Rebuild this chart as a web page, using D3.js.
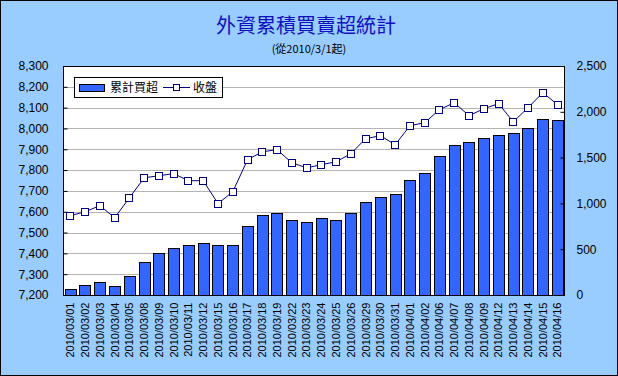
<!DOCTYPE html>
<html>
<head>
<meta charset="utf-8">
<script src="https://cdn.jsdelivr.net/npm/d3@7"></script>
<style>
  html, body { margin: 0; padding: 0; background: #fff; }
  svg { display: block; }
</style>
</head>
<body>
<div id="chart"></div>
<script>
// ---- data ----
const dates = [
  "2010/03/01","2010/03/02","2010/03/03","2010/03/04","2010/03/05",
  "2010/03/08","2010/03/09","2010/03/10","2010/03/11","2010/03/12",
  "2010/03/15","2010/03/16","2010/03/17","2010/03/18","2010/03/19",
  "2010/03/22","2010/03/23","2010/03/24","2010/03/25","2010/03/26",
  "2010/03/29","2010/03/30","2010/03/31","2010/04/01","2010/04/02",
  "2010/04/06","2010/04/07","2010/04/08","2010/04/09","2010/04/12",
  "2010/04/13","2010/04/14","2010/04/15","2010/04/16"
];
// cumulative net buy (right axis)
const netBuy = [
  62, 106, 139, 95, 204,
  357, 455, 510, 543, 565,
  543, 543, 750, 870, 892,
  816, 794, 838, 816, 892,
  1012, 1067, 1100, 1256, 1329,
  1515, 1635, 1667, 1711, 1744,
  1769, 1820, 1919, 1908
];
// closing index (left axis)
const closing = [
  7581, 7600, 7629, 7571, 7667,
  7763, 7773, 7783, 7749, 7749,
  7639, 7696, 7850, 7888, 7898,
  7835, 7811, 7826, 7840, 7879,
  7951, 7965, 7922, 8013, 8028,
  8090, 8124, 8061, 8095, 8119,
  8032, 8100, 8172, 8114
];
const leftTicks  = [7200, 7300, 7400, 7500, 7600, 7700, 7800, 7900, 8000, 8100, 8200, 8300];
const rightTicks = [0, 500, 1000, 1500, 2000, 2500];
const title = "外資累積買賣超統計";
const subtitle = "(從2010/3/1起)";
const seriesNames = ["累計買超", "收盤"];

const fullW = 618, fullH = 376;
const plot = { left: 63, right: 565, top: 66, bottom: 295 };
const bg = "#99CCFF", barColour = "#3366FF", lineColour = "#000080";
const latin = "'Liberation Sans', Arial, sans-serif";
const cjk = "'Noto Sans CJK TC', 'Noto Sans CJK SC', sans-serif";

const svg = d3.select("#chart").append("svg")
  .attr("width", fullW).attr("height", fullH);

svg.append("rect")
  .attr("x", 0.5).attr("y", 0.5)
  .attr("width", fullW - 1).attr("height", fullH - 1)
  .attr("fill", bg).attr("stroke", "#000").attr("stroke-width", 1);

// Titles
svg.append("text")
  .attr("x", 306).attr("y", 33)
  .attr("text-anchor", "middle")
  .attr("font-family", cjk).attr("font-size", 20)
  .attr("fill", "#1010C0")
  .text(title);

svg.append("text")
  .attr("x", 309).attr("y", 53)
  .attr("text-anchor", "middle")
  .attr("font-family", cjk).attr("font-size", 11)
  .attr("fill", "#000")
  .text(subtitle);

// Scales
const x = d3.scaleBand().domain(dates)
  .range([plot.left, plot.right])
  .paddingInner(0.23).paddingOuter(0.115);
const yL = d3.scaleLinear().domain([7200, 8300]).range([plot.bottom, plot.top]);
const yR = d3.scaleLinear().domain([0, 2500]).range([plot.bottom, plot.top]);

// Plot area
svg.append("rect")
  .attr("x", plot.left).attr("y", plot.top)
  .attr("width", plot.right - plot.left).attr("height", plot.bottom - plot.top)
  .attr("fill", "#fff");

// Grid
svg.append("g")
  .attr("transform", `translate(${plot.left},0)`)
  .call(d3.axisLeft(yL).tickValues(leftTicks.slice(1, -1))
    .tickSize(-(plot.right - plot.left)).tickFormat(""))
  .call(g => g.select(".domain").remove())
  .call(g => g.selectAll("line").attr("stroke", "#B4B4B4").attr("shape-rendering", "crispEdges"));

// Bars
svg.append("g").selectAll("rect")
  .data(dates.map((d, i) => ({ date: d, value: netBuy[i] })))
  .join("rect")
  .attr("x", d => Math.round(x(d.date)) + 0.5)
  .attr("y", d => Math.round(yR(d.value)) + 0.5)
  .attr("width", Math.round(x.bandwidth()))
  .attr("height", d => plot.bottom - Math.round(yR(d.value)))
  .attr("fill", barColour)
  .attr("stroke", "#000").attr("stroke-width", 1);

// Line
const pts = dates.map((d, i) => ({ date: d, value: closing[i] }));
const line = d3.line()
  .x(d => x(d.date) + x.bandwidth() / 2)
  .y(d => yL(d.value));

svg.append("path")
  .datum(pts)
  .attr("d", line)
  .attr("fill", "none")
  .attr("stroke", lineColour).attr("stroke-width", 1);

svg.append("g").selectAll("rect")
  .data(pts)
  .join("rect")
  .attr("x", d => Math.round(x(d.date) + x.bandwidth() / 2) - 3.5)
  .attr("y", d => Math.round(yL(d.value)) - 3.5)
  .attr("width", 7).attr("height", 7)
  .attr("fill", "#fff")
  .attr("stroke", lineColour).attr("stroke-width", 1);

// Plot border
svg.append("rect")
  .attr("x", plot.left + 0.5).attr("y", plot.top + 0.5)
  .attr("width", plot.right - plot.left - 1).attr("height", plot.bottom - plot.top)
  .attr("fill", "none").attr("stroke", "#000").attr("stroke-width", 1);

// Axes
const fmt = d3.format(",");
const leftAxis = svg.append("g")
  .attr("transform", `translate(${plot.left + 0.5},0)`)
  .call(d3.axisLeft(yL).tickValues(leftTicks).tickFormat(fmt)
    .tickSizeInner(-4).tickSizeOuter(0).tickPadding(15));
const rightAxis = svg.append("g")
  .attr("transform", `translate(${plot.right - 0.5},0)`)
  .call(d3.axisRight(yR).tickValues(rightTicks).tickFormat(fmt)
    .tickSizeInner(-4).tickSizeOuter(0).tickPadding(12));

[leftAxis, rightAxis].forEach(a => {
  a.select(".domain").remove();
  a.selectAll("line").attr("stroke", "#000");
  a.selectAll("text")
    .attr("font-family", latin).attr("font-size", 12)
    .attr("fill", "#000");
});

const xAxis = svg.append("g")
  .attr("transform", `translate(0,${plot.bottom + 0.5})`)
  .call(d3.axisBottom(x).tickSize(0).tickPadding(0));
xAxis.select(".domain").remove();
xAxis.selectAll("text")
  .attr("font-family", latin).attr("font-size", 11)
  .attr("fill", "#000")
  .attr("text-anchor", "end")
  .attr("transform", "rotate(-90)")
  .attr("x", -7).attr("y", 0).attr("dy", "0.35em");

// Legend
const lg = svg.append("g").attr("transform", "translate(74,77)");
lg.append("rect")
  .attr("x", 0.5).attr("y", 0.5).attr("width", 148).attr("height", 20)
  .attr("fill", "#fff").attr("stroke", "#000");
lg.append("rect")
  .attr("x", 5.5).attr("y", 7.5).attr("width", 25).attr("height", 7)
  .attr("fill", barColour).attr("stroke", "#000");
lg.append("text")
  .attr("x", 36).attr("y", 15)
  .attr("font-family", cjk).attr("font-size", 12)
  .text(seriesNames[0]);
lg.append("line")
  .attr("x1", 89).attr("x2", 116).attr("y1", 10.5).attr("y2", 10.5)
  .attr("stroke", lineColour);
lg.append("rect")
  .attr("x", 99.5).attr("y", 7.5).attr("width", 6).attr("height", 6)
  .attr("fill", "#fff").attr("stroke", lineColour);
lg.append("text")
  .attr("x", 119).attr("y", 15)
  .attr("font-family", cjk).attr("font-size", 12)
  .text(seriesNames[1]);
</script>
</body>
</html>
